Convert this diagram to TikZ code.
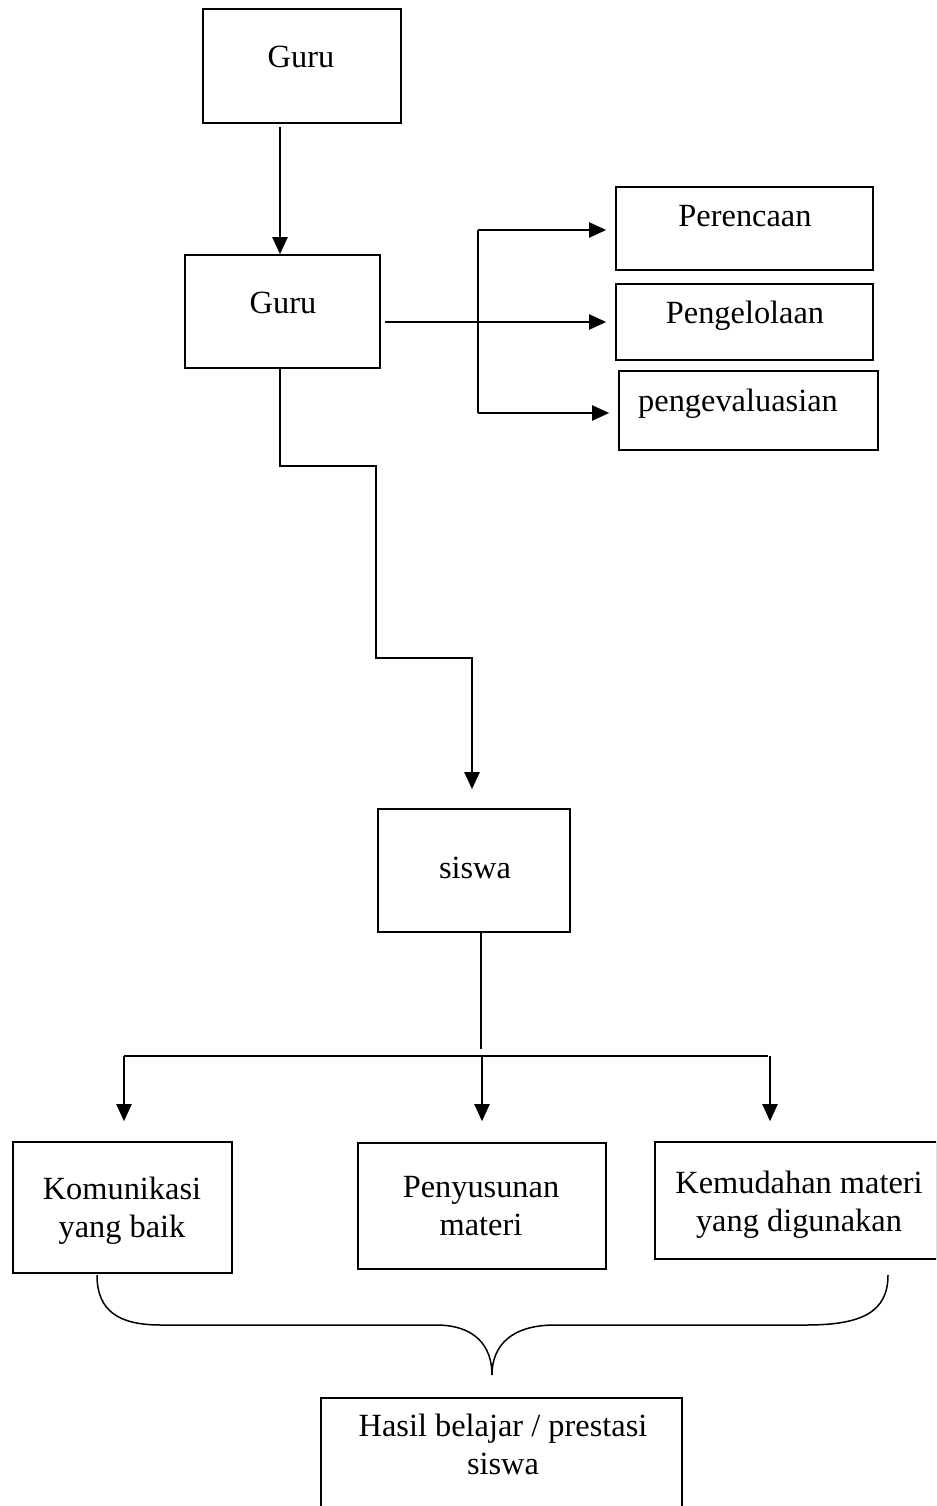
\documentclass[tikz,border=0pt]{standalone}
\usepackage{fontspec}
\setmainfont{Liberation Serif}
\usetikzlibrary{arrows.meta,calc}
\begin{document}
\begin{tikzpicture}[x=1bp,y=-1bp,
  box/.style={draw=black,line width=1.6bp,rectangle,inner sep=0pt},
  txt/.style={inner sep=0pt,anchor=base,font=\fontsize{32.5}{38}\selectfont},
  conn/.style={line width=2bp},
  arr/.style={line width=2.2bp,-{Triangle[width=15bp,length=17bp]}}]
\useasboundingbox (0,0) rectangle (936,1506);
\clip (0,0) rectangle (936,1506);
% boxes
\node[box,minimum width=198bp,minimum height=114bp] (guru1) at (302,66) {};
\node[box,minimum width=195bp,minimum height=113bp] (guru2) at (282.5,311.5) {};
\node[box,minimum width=257bp,minimum height=83bp] (per) at (744.5,228.5) {};
\node[box,minimum width=257bp,minimum height=76bp] (peng) at (744.5,322) {};
\node[box,minimum width=259bp,minimum height=79bp] (eval) at (748.5,410.5) {};
\node[box,minimum width=192bp,minimum height=123bp] (siswa) at (474,870.5) {};
\node[box,minimum width=219bp,minimum height=131bp] (kom) at (122.5,1207.5) {};
\node[box,minimum width=248bp,minimum height=126bp] (pen) at (482,1206) {};
\node[box,minimum width=282bp,minimum height=117bp] (kem) at (796,1200.5) {};
\node[box,minimum width=361bp,minimum height=140bp] (hasil) at (501.5,1468) {};
% texts
\node[txt] (guru1t) at (301,68) {Guru};
\node[txt] (guru2t) at (283,313) {Guru};
\node[txt] (pert) at (745,226) {Perencaan};
\node[txt] (pengt) at (745,323) {Pengelolaan};
\node[txt] (evalt) at (738,411) {pengevaluasian};
\node[txt] (siswat) at (475,878) {siswa};
\node[txt] (komt1) at (122,1199) {Komunikasi};
\node[txt] (komt2) at (122,1237) {yang baik};
\node[txt] (pent1) at (481,1197) {Penyusunan};
\node[txt] (pent2) at (481,1235) {materi};
\node[txt] (kemt1) at (799,1193) {Kemudahan materi};
\node[txt] (kemt2) at (799,1231) {yang digunakan};
\node[txt] (hasilt1) at (503,1436) {Hasil belajar / prestasi};
\node[txt] (hasilt2) at (503,1474) {siswa};
% coordinates
\coordinate (bt) at (478,230);
\coordinate (bb) at (478,413);
\coordinate (k1) at (376,466);
\coordinate (k2) at (472,658);
\coordinate (hl) at (124,1056);
\coordinate (hr) at (768,1056);
\coordinate (hk) at (770,1056);
\coordinate (bl) at (97,1275);
\coordinate (br) at (888,1275);
\coordinate (btip) at (492,1375);
% connectors
\draw[arr,shorten <=3bp] (guru1.south -| 280,0) -- (guru2.north -| 280,0);
\draw[arr,shorten <=4bp,shorten >=9bp] (guru2.east |- peng.west) -- (peng.west);
\draw[conn] (bt) -- (bb);
\draw[arr,shorten >=9bp] (bt) -- (bt -| per.west);
\draw[arr,shorten >=9bp] (bb) -- (bb -| eval.west);
\draw[arr,shorten >=19bp] (guru2.south -| 280,0) |- (k1) |- (k2) -- (k2 |- siswa.north);
\draw[conn] (siswa.south -| 481,0) -- (481,1049);
\draw[conn] (hl) -- (hr);
\draw[arr,shorten >=20bp] (hl) -- (hl |- kom.north);
\draw[arr,shorten >=21bp] (pen.north |- hl) -- (pen.north);
\draw[arr,shorten >=20bp] (hk) -- (hk |- kem.north);
% brace
\draw[line width=1.5bp] (bl) .. controls (97,1312) and (120,1325) .. (161,1325)
  -- (436,1325) .. controls (474,1325) and (492,1345) .. (btip)
  .. controls (492,1345) and (512,1325) .. (555,1325)
  -- (806,1325) .. controls (862,1325) and (888,1312) .. (br);
\end{tikzpicture}
\end{document}
